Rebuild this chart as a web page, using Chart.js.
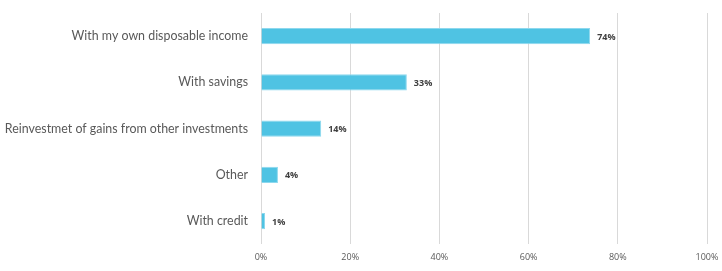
<!DOCTYPE html>
<html lang="en">
<head>
    <meta charset="UTF-8">
    <title>Financing sources</title>
    <script src="https://cdn.jsdelivr.net/npm/chart.js"></script>
    <style>
        body { margin: 0; background: #fff; }
        #wrap { width: 722px; height: 271px; }
    </style>
</head>
<body>
    <div id="wrap"><canvas id="chart" width="722" height="271"></canvas></div>
    <script>
        const categories = [
            'With my own disposable income',
            'With savings',
            'Reinvestmet of gains from other investments',
            'Other',
            'With credit'
        ];
        const shares = [73.8, 32.7, 13.5, 3.8, 0.9];
        const tickValues = [0, 20, 40, 60, 80, 100];

        // draws the "74%" style labels just right of each bar
        const barLabels = {
            id: 'barLabels',
            afterDatasetsDraw(chart) {
                const ctx = chart.ctx;
                const meta = chart.getDatasetMeta(0);
                ctx.save();
                ctx.font = 'bold 9px "Open Sans"';
                ctx.fillStyle = '#404040';
                ctx.textBaseline = 'middle';
                meta.data.forEach((bar, i) => {
                    ctx.fillText(Math.round(shares[i]) + '%', bar.x + 7, bar.y + 1);
                });
                ctx.restore();
            }
        };

        new Chart(document.getElementById('chart'), {
            type: 'bar',
            data: {
                labels: categories,
                datasets: [{
                    data: shares,
                    backgroundColor: '#4fc3e3',
                    borderColor: '#8dd8ee',
                    borderWidth: 1,
                    categoryPercentage: 1,
                    barPercentage: 0.35
                }]
            },
            options: {
                indexAxis: 'y',
                responsive: false,
                animation: false,
                layout: { padding: { top: 13, right: 0, bottom: 0, left: 0 } },
                plugins: {
                    legend: { display: false },
                    tooltip: { enabled: false }
                },
                scales: {
                    x: {
                        min: 0,
                        max: 100,
                        afterBuildTicks(axis) {
                            axis.ticks = tickValues.map(v => ({ value: v }));
                        },
                        afterFit(axis) { axis.paddingRight = 15; },
                        grid: { color: '#d9d9d9', drawTicks: false },
                        border: { display: false },
                        ticks: {
                            padding: 8,
                            color: '#595959',
                            font: { family: 'Open Sans', size: 9 },
                            callback: v => v + '%'
                        }
                    },
                    y: {
                        afterFit(axis) {
                            axis.width = 261;
                            axis.paddingTop = 0;
                            axis.paddingBottom = 0;
                        },
                        grid: { display: false, drawTicks: false },
                        border: { display: false },
                        ticks: {
                            padding: 13,
                            color: '#595959',
                            font: { family: 'Lato', size: 12.4 }
                        }
                    }
                }
            },
            plugins: [barLabels]
        });
    </script>
</body>
</html>
